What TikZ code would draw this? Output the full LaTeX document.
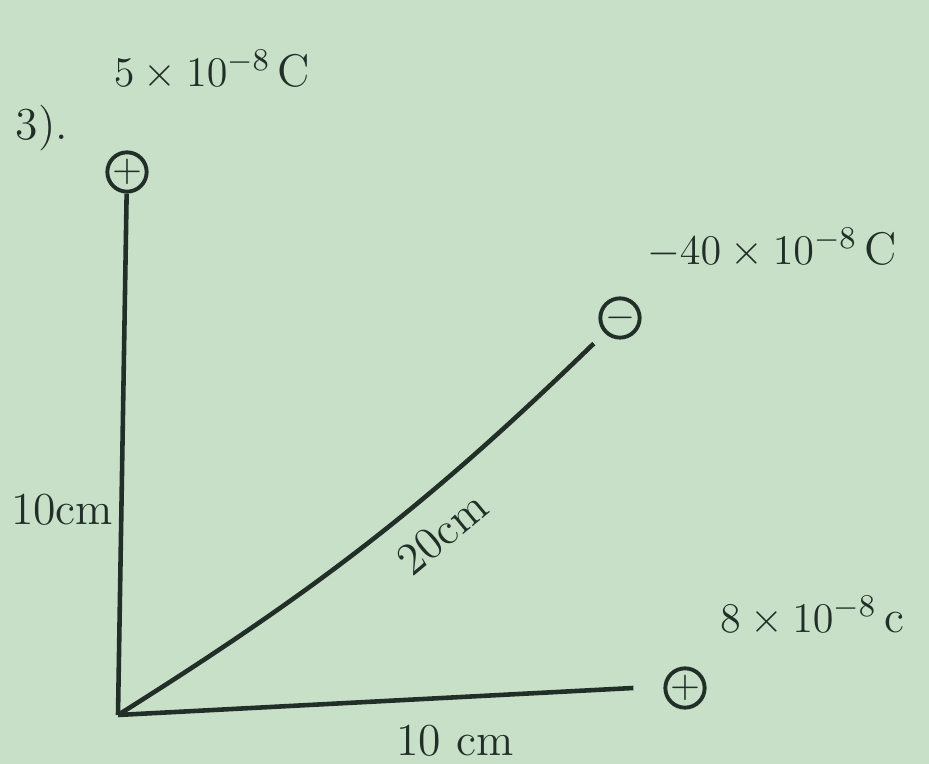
\documentclass[tikz,border=0pt]{standalone}
\usepackage{amsmath}
\usepackage{tikz}
\usetikzlibrary{positioning}
\definecolor{paper}{RGB}{200,224,200}
\definecolor{ink}{RGB}{34,46,40}

\begin{document}
\begin{tikzpicture}[x=0.01cm,y=-0.01cm,ink,line width=1.3pt,
  every node/.style={font=\fontsize{13}{15}\selectfont,text=ink},
  charge/.style={circle,draw,line width=1.1pt,inner sep=0pt,minimum size=0.34cm,font=\fontsize{11}{12}\selectfont}]
  \useasboundingbox[fill=paper] (0,0) rectangle (929,764);

  \node (num) at (42,128) {3).};
  \node (q1) at (127,172) [charge] {$+$};
  \node (q2) at (620,318) [charge] {$-$};
  \node (q3) at (685,688) [charge] {$+$};
  \coordinate (o) at (118,715);

  \node (l1) at (212,70) {$5\times10^{-8}\,$C};
  \node (l2) at (772,248) {$-40\times10^{-8}\,$C};
  \node (l3) at (812,616) {$8\times10^{-8}\,$c};

  \draw (q1) -- (o);
  \draw (o) -- ([xshift=-0.3cm]q3.west);
  \draw[shorten >=0.15cm] (o) to[bend right=6] node[pos=0.6,sloped,below,inner sep=6pt] (d) {20cm} (q2);

  \node (a) at (62,510) {10cm};
  \node (b) at (455,741) {10 cm};
\end{tikzpicture}
\end{document}
